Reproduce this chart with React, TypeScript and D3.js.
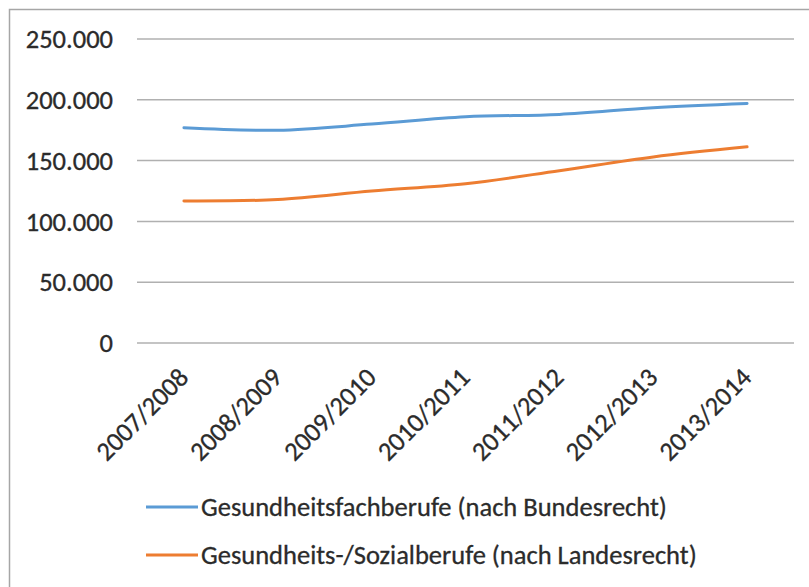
import React, { useEffect, useRef } from 'react';
import * as d3 from 'd3';

const years = ['2007/2008', '2008/2009', '2009/2010', '2010/2011', '2011/2012', '2012/2013', '2013/2014'];
const bundesrecht = [177000, 175000, 180000, 186000, 188000, 193500, 197000];
const landesrecht = [116800, 118000, 125000, 131000, 141700, 153000, 161300];
const seriesNames = ['Gesundheitsfachberufe (nach Bundesrecht)', 'Gesundheits-/Sozialberufe (nach Landesrecht)'];
const seriesColors = ['#5B9BD5', '#ED7D31'];
const yTicks = [0, 50000, 100000, 150000, 200000, 250000];

const FONT = "Carlito, Calibri, 'Liberation Sans Narrow', 'Open Sans', sans-serif";
const TEXT = '#2b2b2b';

const LineChart = () => {
  const ref = useRef<SVGSVGElement>(null);

  useEffect(() => {
    const svg = d3.select(ref.current);
    svg.selectAll('*').remove();

    const width = 809;
    const height = 587;
    const margin = { top: 39, right: 15, bottom: 244, left: 137 };

    const de = d3.formatLocale({ decimal: ',', thousands: '.', grouping: [3], currency: ['', ' €'] });
    const fmt = de.format(',d');

    const x = d3.scalePoint<string>().domain(years).range([margin.left, width - margin.right]).padding(0.5);
    const y = d3.scaleLinear().domain([0, 250000]).range([height - margin.bottom, margin.top]);

    // chart frame (cut off at right and bottom in the original)
    svg.append('rect')
      .attr('x', 9.5).attr('y', 9.5)
      .attr('width', width + 20).attr('height', height + 20)
      .attr('fill', '#fff').attr('stroke', '#a6a6a6').attr('stroke-width', 1.5);

    // gridlines
    svg.append('g')
      .selectAll('line')
      .data(yTicks)
      .join('line')
      .attr('x1', margin.left).attr('x2', width - margin.right)
      .attr('y1', d => y(d)).attr('y2', d => y(d))
      .attr('stroke', '#b0b0b0').attr('stroke-width', 1.5);

    const textStyle = (sel: any) => sel
      .attr('font-family', FONT).attr('font-size', 26.5)
      .attr('fill', TEXT).attr('stroke', TEXT).attr('stroke-width', 0.3);

    // y labels
    svg.append('g')
      .selectAll('text')
      .data(yTicks)
      .join('text')
      .attr('x', 113).attr('y', d => y(d))
      .attr('dy', '0.35em')
      .attr('text-anchor', 'end')
      .call(textStyle)
      .text(d => fmt(d));

    // x labels, rotated
    svg.append('g')
      .selectAll('text')
      .data(years)
      .join('text')
      .attr('transform', d => `translate(${(x(d) ?? 0) + 6},379) rotate(-45)`)
      .attr('text-anchor', 'end')
      .call(textStyle)
      .text(d => d);

    const line = d3.line<number>()
      .x((_, i) => x(years[i]) ?? 0)
      .y(d => y(d))
      .curve(d3.curveCatmullRom.alpha(0));

    [bundesrecht, landesrecht].forEach((vals, i) => {
      svg.append('path')
        .datum(vals)
        .attr('fill', 'none')
        .attr('stroke', seriesColors[i])
        .attr('stroke-width', 3)
        .attr('stroke-linecap', 'round')
        .attr('d', line);
    });

    // legend
    const legend = svg.append('g');
    seriesNames.forEach((name, i) => {
      const ly = 507 + i * 48;
      legend.append('line')
        .attr('x1', 146).attr('x2', 198)
        .attr('y1', ly).attr('y2', ly)
        .attr('stroke', seriesColors[i]).attr('stroke-width', 3);
      legend.append('text')
        .attr('x', 201).attr('y', ly)
        .attr('dy', '0.35em')
        .call(textStyle)
        .text(name);
    });
  }, []);

  return (
    <svg ref={ref} width={809} height={587} style={{ position: 'absolute', left: 0, top: 0 }}></svg>
  );
};

export default function App() {
  return <LineChart />;
}
